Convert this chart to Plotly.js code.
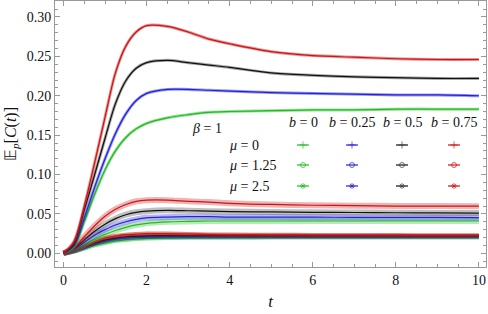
<!DOCTYPE html>
<html><head><meta charset="utf-8">
<script src="https://cdn.plot.ly/plotly-3.0.1.min.js"></script>
<style>html,body{margin:0;padding:0;background:#fff}#chart{width:488px;height:314px}</style>
</head><body><div id="chart"></div>
<script>
// time grid
const t = [0,0.25,0.5,0.75,1,1.25,1.5,1.75,2,2.5,3,3.5,4,5,6,7,8,9,10];
// mu = 0
const red_mu0   = [0,0.015,0.060,0.115,0.173,0.229,0.263,0.281,0.289,0.288,0.281,0.272,0.266,0.256,0.251,0.249,0.247,0.246,0.246];
const black_mu0 = [0,0.012,0.055,0.100,0.146,0.190,0.219,0.235,0.242,0.245,0.242,0.239,0.236,0.229,0.226,0.224,0.223,0.222,0.222];
const blue_mu0  = [0,0.010,0.045,0.084,0.120,0.152,0.177,0.194,0.203,0.208,0.208,0.207,0.206,0.204,0.203,0.202,0.201,0.201,0.200];
const green_mu0 = [0,0.008,0.040,0.075,0.106,0.130,0.147,0.158,0.165,0.172,0.176,0.179,0.180,0.181,0.182,0.182,0.183,0.183,0.183];
// mu = 1.25
const red_mu125   = [0,0.007,0.021,0.035,0.047,0.056,0.062,0.066,0.0675,0.0675,0.066,0.065,0.0635,0.062,0.061,0.0605,0.060,0.060,0.0598];
const black_mu125 = [0,0.006,0.017,0.028,0.037,0.044,0.049,0.052,0.0535,0.0545,0.054,0.0535,0.053,0.0525,0.052,0.0518,0.0515,0.0512,0.051];
const blue_mu125  = [0,0.005,0.014,0.023,0.030,0.036,0.040,0.043,0.045,0.046,0.0465,0.0465,0.046,0.046,0.0458,0.0457,0.0455,0.0455,0.0454];
const green_mu125 = [0,0.004,0.011,0.018,0.024,0.029,0.033,0.036,0.038,0.040,0.0405,0.041,0.041,0.041,0.041,0.041,0.041,0.041,0.041];
// mu = 2.5
const red_mu25   = [0,0.003,0.009,0.015,0.0195,0.022,0.0237,0.0245,0.025,0.025,0.0245,0.024,0.0238,0.0235,0.0233,0.0232,0.0231,0.023,0.023];
const black_mu25 = [0,0.0028,0.008,0.013,0.017,0.0195,0.021,0.0218,0.0222,0.0225,0.0225,0.0224,0.0223,0.0222,0.0221,0.022,0.022,0.022,0.022];
const blue_mu25  = [0,0.0025,0.007,0.012,0.0155,0.018,0.0195,0.0203,0.0207,0.021,0.021,0.021,0.021,0.021,0.021,0.021,0.021,0.021,0.021];
const green_mu25 = [0,0.002,0.006,0.010,0.013,0.0155,0.017,0.018,0.0187,0.0193,0.0196,0.0197,0.0198,0.0199,0.020,0.020,0.020,0.020,0.020];

const bValues = ['0','0.25','0.5','0.75'];
const muValues = ['0','1.25','2.5'];
const xTickLabels = ['0','2','4','6','8','10'];
const yTickLabels = ['0.00','0.05','0.10','0.15','0.20','0.25','0.30'];

const FONT = 'Liberation Serif, Times New Roman, serif';
const colors = ['#22bb22','#2222dd','#111111','#cc1515'];
const bands  = ['rgba(34,187,34,A)','rgba(34,34,221,A)','rgba(60,60,60,A)','rgba(204,21,21,A)'];
const groups = [
  {series:[green_mu0,blue_mu0,black_mu0,red_mu0], bandW:3, alpha:0.45, sym:'cross-thin-open', msz:5},
  {series:[green_mu125,blue_mu125,black_mu125,red_mu125], bandW:6, alpha:0.32, sym:'circle-open', msz:5},
  {series:[green_mu25,blue_mu25,black_mu25,red_mu25], bandW:4, alpha:0.55, sym:'asterisk-open', msz:5}
];

const traces = [];
[2,1,0].forEach(gi=>{
  const g = groups[gi];
  g.series.forEach((ys,ci)=>{
    traces.push({x:t,y:ys,type:'scatter',mode:'lines',hoverinfo:'skip',
      line:{color:bands[ci].replace('A',g.alpha),width:g.bandW,shape:'spline',smoothing:0.9}});
    traces.push({x:t,y:ys,type:'scatter',mode:'lines',hoverinfo:'skip',
      line:{color:colors[ci],width:1.2,shape:'spline',smoothing:0.9}});
  });
});

// legend block (pixel-like coordinates on overlay axes)
const legCols = [303,352,402,454];
const legRows = [145,165,186];
const annotations = [];
legCols.forEach((cx,ci)=>{
  annotations.push({xref:'x2',yref:'y2',x:cx,y:122,text:'<i>b</i> = '+bValues[ci],showarrow:false,
    font:{family:FONT,size:14,color:'#111'}});
});
legRows.forEach((ry,ri)=>{
  annotations.push({xref:'x2',yref:'y2',x:227,y:ry,xanchor:'left',text:'<i>μ</i> = '+muValues[ri],showarrow:false,
    font:{family:FONT,size:14,color:'#111'}});
  legCols.forEach((cx,ci)=>{
    const g = groups[ri];
    traces.push({x:[cx-6,cx+6],y:[ry,ry],xaxis:'x2',yaxis:'y2',type:'scatter',mode:'lines',hoverinfo:'skip',
      line:{color:colors[ci],width:1.2}});
    traces.push({x:[cx],y:[ry],xaxis:'x2',yaxis:'y2',type:'scatter',mode:'markers',hoverinfo:'skip',
      marker:{symbol:g.sym,size:g.msz,color:bands[ci].replace('A',0.7),line:{width:1,color:bands[ci].replace('A',0.7)}}});
  });
});
annotations.push({xref:'x2',yref:'y2',x:190,y:128,xanchor:'left',text:'<i>β</i> = 1',showarrow:false,
  font:{family:FONT,size:14,color:'#111'}});

const axisCommon = {
  showline:true, linecolor:'#999', linewidth:1, mirror:'allticks',
  ticks:'inside', ticklen:5, tickcolor:'#999', tickwidth:1,
  showgrid:false, zeroline:false,
  tickfont:{family:FONT,size:14,color:'#111'}
};

const layout = {
  width:488, height:314,
  margin:{l:55,r:2,t:1,b:47},
  paper_bgcolor:'#fff', plot_bgcolor:'#fff',
  showlegend:false,
  font:{family:FONT},
  xaxis:Object.assign({}, axisCommon, {
    range:[-0.205,10.17], tickvals:[0,2,4,6,8,10], ticktext:xTickLabels,
    minor:{dtick:0.5, tick0:0, ticks:'inside', ticklen:3, tickcolor:'#999'},
    title:{text:'<i>t</i>', font:{family:FONT,size:17,color:'#111'}, standoff:8}
  }),
  yaxis:Object.assign({}, axisCommon, {
    range:[-0.0174,0.3203], tickvals:[0,0.05,0.10,0.15,0.20,0.25,0.30],
    ticktext:yTickLabels,
    minor:{dtick:0.01, tick0:0, ticks:'inside', ticklen:3, tickcolor:'#999'},
    title:{text:'𝔼<sub><i>p</i></sub>[<i>C</i>(<i>t</i>)]', font:{family:FONT,size:16,color:'#111'}, standoff:6}
  }),
  xaxis2:{overlaying:'x', range:[55,486], visible:false, fixedrange:true},
  yaxis2:{overlaying:'y', range:[267,1], visible:false, fixedrange:true},
  annotations:annotations
};

Plotly.newPlot('chart', traces, layout, {staticPlot:true, displayModeBar:false});
</script></body></html>
